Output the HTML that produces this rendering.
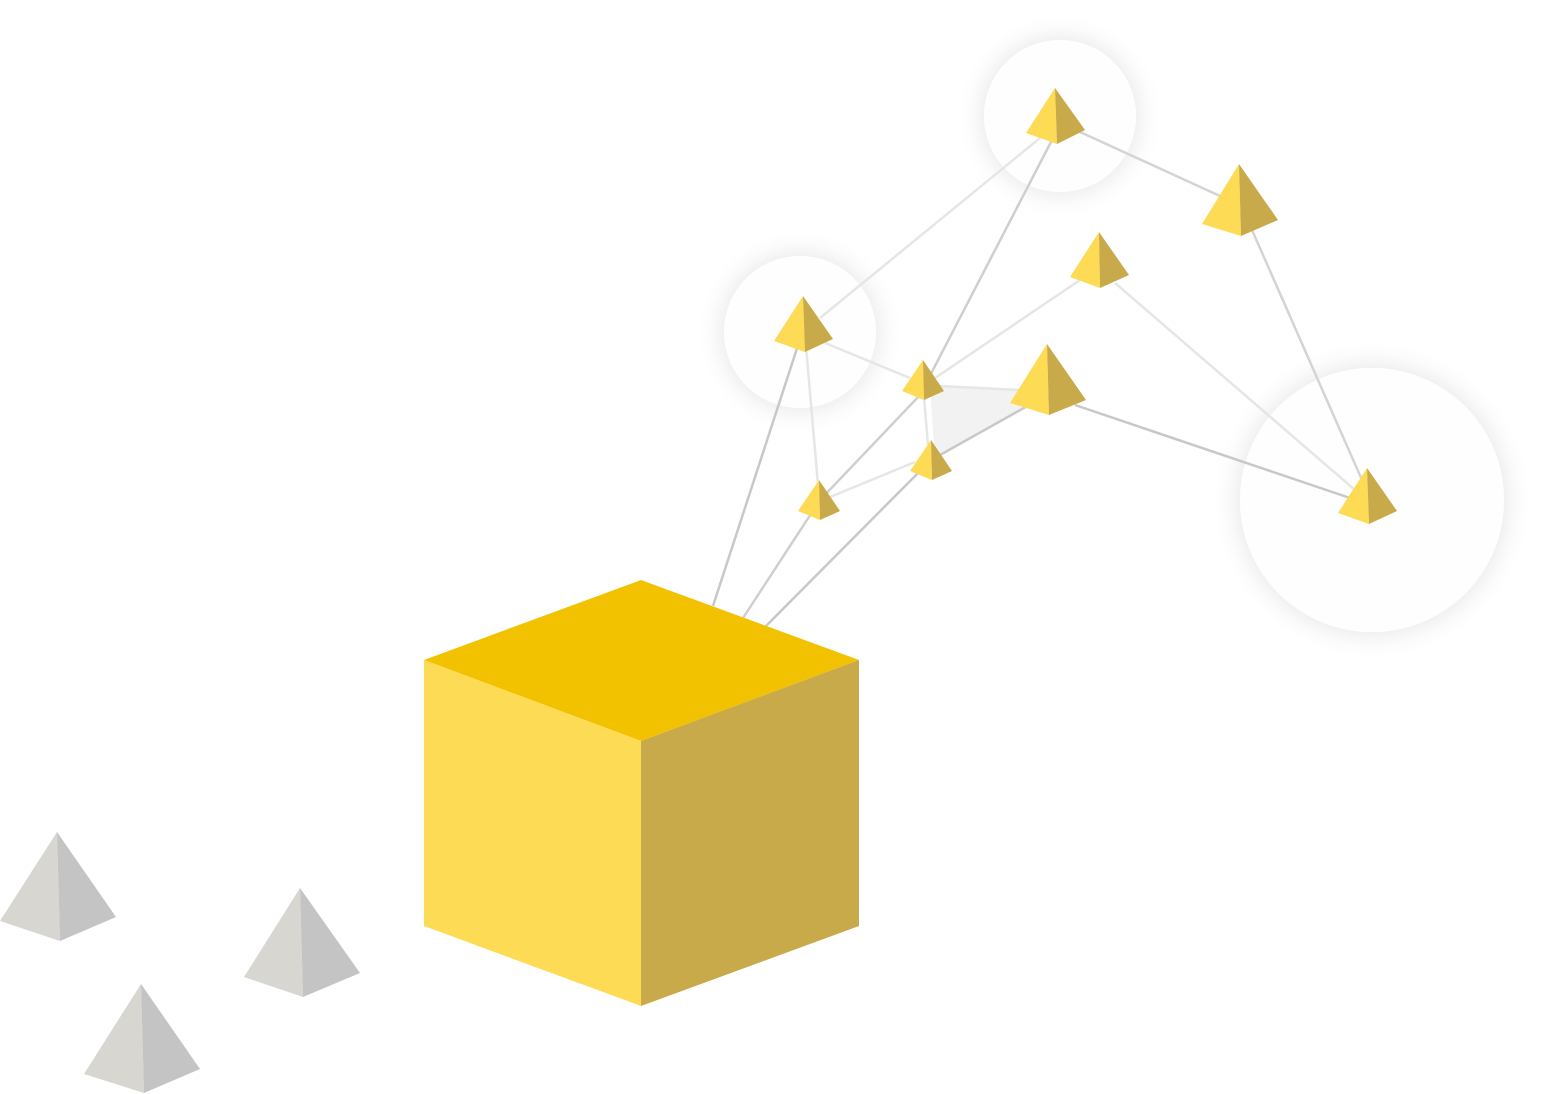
<!DOCTYPE html>
<html><head><meta charset="utf-8"><style>html,body{margin:0;padding:0;background:#fff}svg{display:block}</style></head>
<body>
<svg width="1544" height="1094" viewBox="0 0 1544 1094" xmlns="http://www.w3.org/2000/svg">
<defs>
<filter id="sh" x="-50%" y="-50%" width="200%" height="200%"><feGaussianBlur in="SourceAlpha" stdDeviation="14"/><feComponentTransfer><feFuncA type="linear" slope="0.12"/></feComponentTransfer><feMerge><feMergeNode/><feMergeNode in="SourceGraphic"/></feMerge></filter>
</defs>
<g filter="url(#sh)" fill="#fefefe">
<circle cx="1060" cy="116" r="76"/>
<circle cx="800" cy="332" r="76"/>
<circle cx="1372" cy="500" r="132"/>
</g>
<polygon points="930,385 1020,390 1022,408 935,460" fill="#f2f2f2"/>
<g fill="none" stroke-width="2.5">
<line x1="713" y1="606" x2="803" y2="330" stroke="#c8c8c8"/>
<polyline points="743,618 820,500 920,395 1052,140" stroke="#cfcfcf"/>
<polyline points="766,626 931,460 1047,395" stroke="#c8c8c8"/>
<line x1="820" y1="318" x2="1040" y2="138" stroke="#e6e6e6"/>
<line x1="1080" y1="132" x2="1220" y2="196" stroke="#d4d4d4"/>
<line x1="1252" y1="230" x2="1362" y2="480" stroke="#d4d4d4"/>
<line x1="1080" y1="280" x2="935" y2="378" stroke="#e6e6e6"/>
<line x1="1115" y1="283" x2="1355" y2="490" stroke="#e6e6e6"/>
<line x1="1075" y1="405" x2="1350" y2="498" stroke="#c8c8c8"/>
<line x1="825" y1="343" x2="910" y2="378" stroke="#e6e6e6"/>
<line x1="805" y1="335" x2="818" y2="485" stroke="#e6e6e6"/>
<line x1="924" y1="398" x2="928" y2="445" stroke="#e6e6e6"/>
<line x1="830" y1="497" x2="915" y2="462" stroke="#e6e6e6"/>
<line x1="940" y1="386" x2="1020" y2="390" stroke="#e6e6e6"/>
</g>
<polygon points="641,580 859,660 641,741 424,660" fill="#F2C200"/>
<polygon points="424,660 641,741 641,1006 424,926" fill="#FEDB54"/>
<polygon points="641,741 859,660 859,926 641,1006" fill="#C8AA4A"/>
<g>
<polygon points="1055,88 1026,133 1057,144" fill="#FEDB54"/><polygon points="1055,88 1057,144 1085,130" fill="#C8AA4A"/>
<polygon points="1239,164 1202,224 1241,236" fill="#FEDB54"/><polygon points="1239,164 1241,236 1278,220" fill="#C8AA4A"/>
<polygon points="1099,232 1070,277 1100,288" fill="#FEDB54"/><polygon points="1099,232 1100,288 1129,275" fill="#C8AA4A"/>
<polygon points="803,296 774,341 805,352" fill="#FEDB54"/><polygon points="803,296 805,352 833,339" fill="#C8AA4A"/>
<polygon points="923,360 902,391 924,400" fill="#FEDB54"/><polygon points="923,360 924,400 944,391" fill="#C8AA4A"/>
<polygon points="1047,344 1010,403 1049,415" fill="#FEDB54"/><polygon points="1047,344 1049,415 1086,400" fill="#C8AA4A"/>
<polygon points="931,440 910,471 932,480" fill="#FEDB54"/><polygon points="931,440 932,480 952,471" fill="#C8AA4A"/>
<polygon points="819,480 798,511 820,520" fill="#FEDB54"/><polygon points="819,480 820,520 840,511" fill="#C8AA4A"/>
<polygon points="1367,468 1338,513 1369,524" fill="#FEDB54"/><polygon points="1367,468 1369,524 1397,511" fill="#C8AA4A"/>
</g>
<g>
<polygon points="57,832 0,921 60,941" fill="#D7D6D1"/><polygon points="57,832 60,941 116,917" fill="#C4C4C4"/>
<polygon points="300,888 244,977 303,997" fill="#D7D6D1"/><polygon points="300,888 303,997 360,973" fill="#C4C4C4"/>
<polygon points="141,984 84,1074 144,1093" fill="#D7D6D1"/><polygon points="141,984 144,1093 200,1069" fill="#C4C4C4"/>
</g>
</svg>
</body></html>
